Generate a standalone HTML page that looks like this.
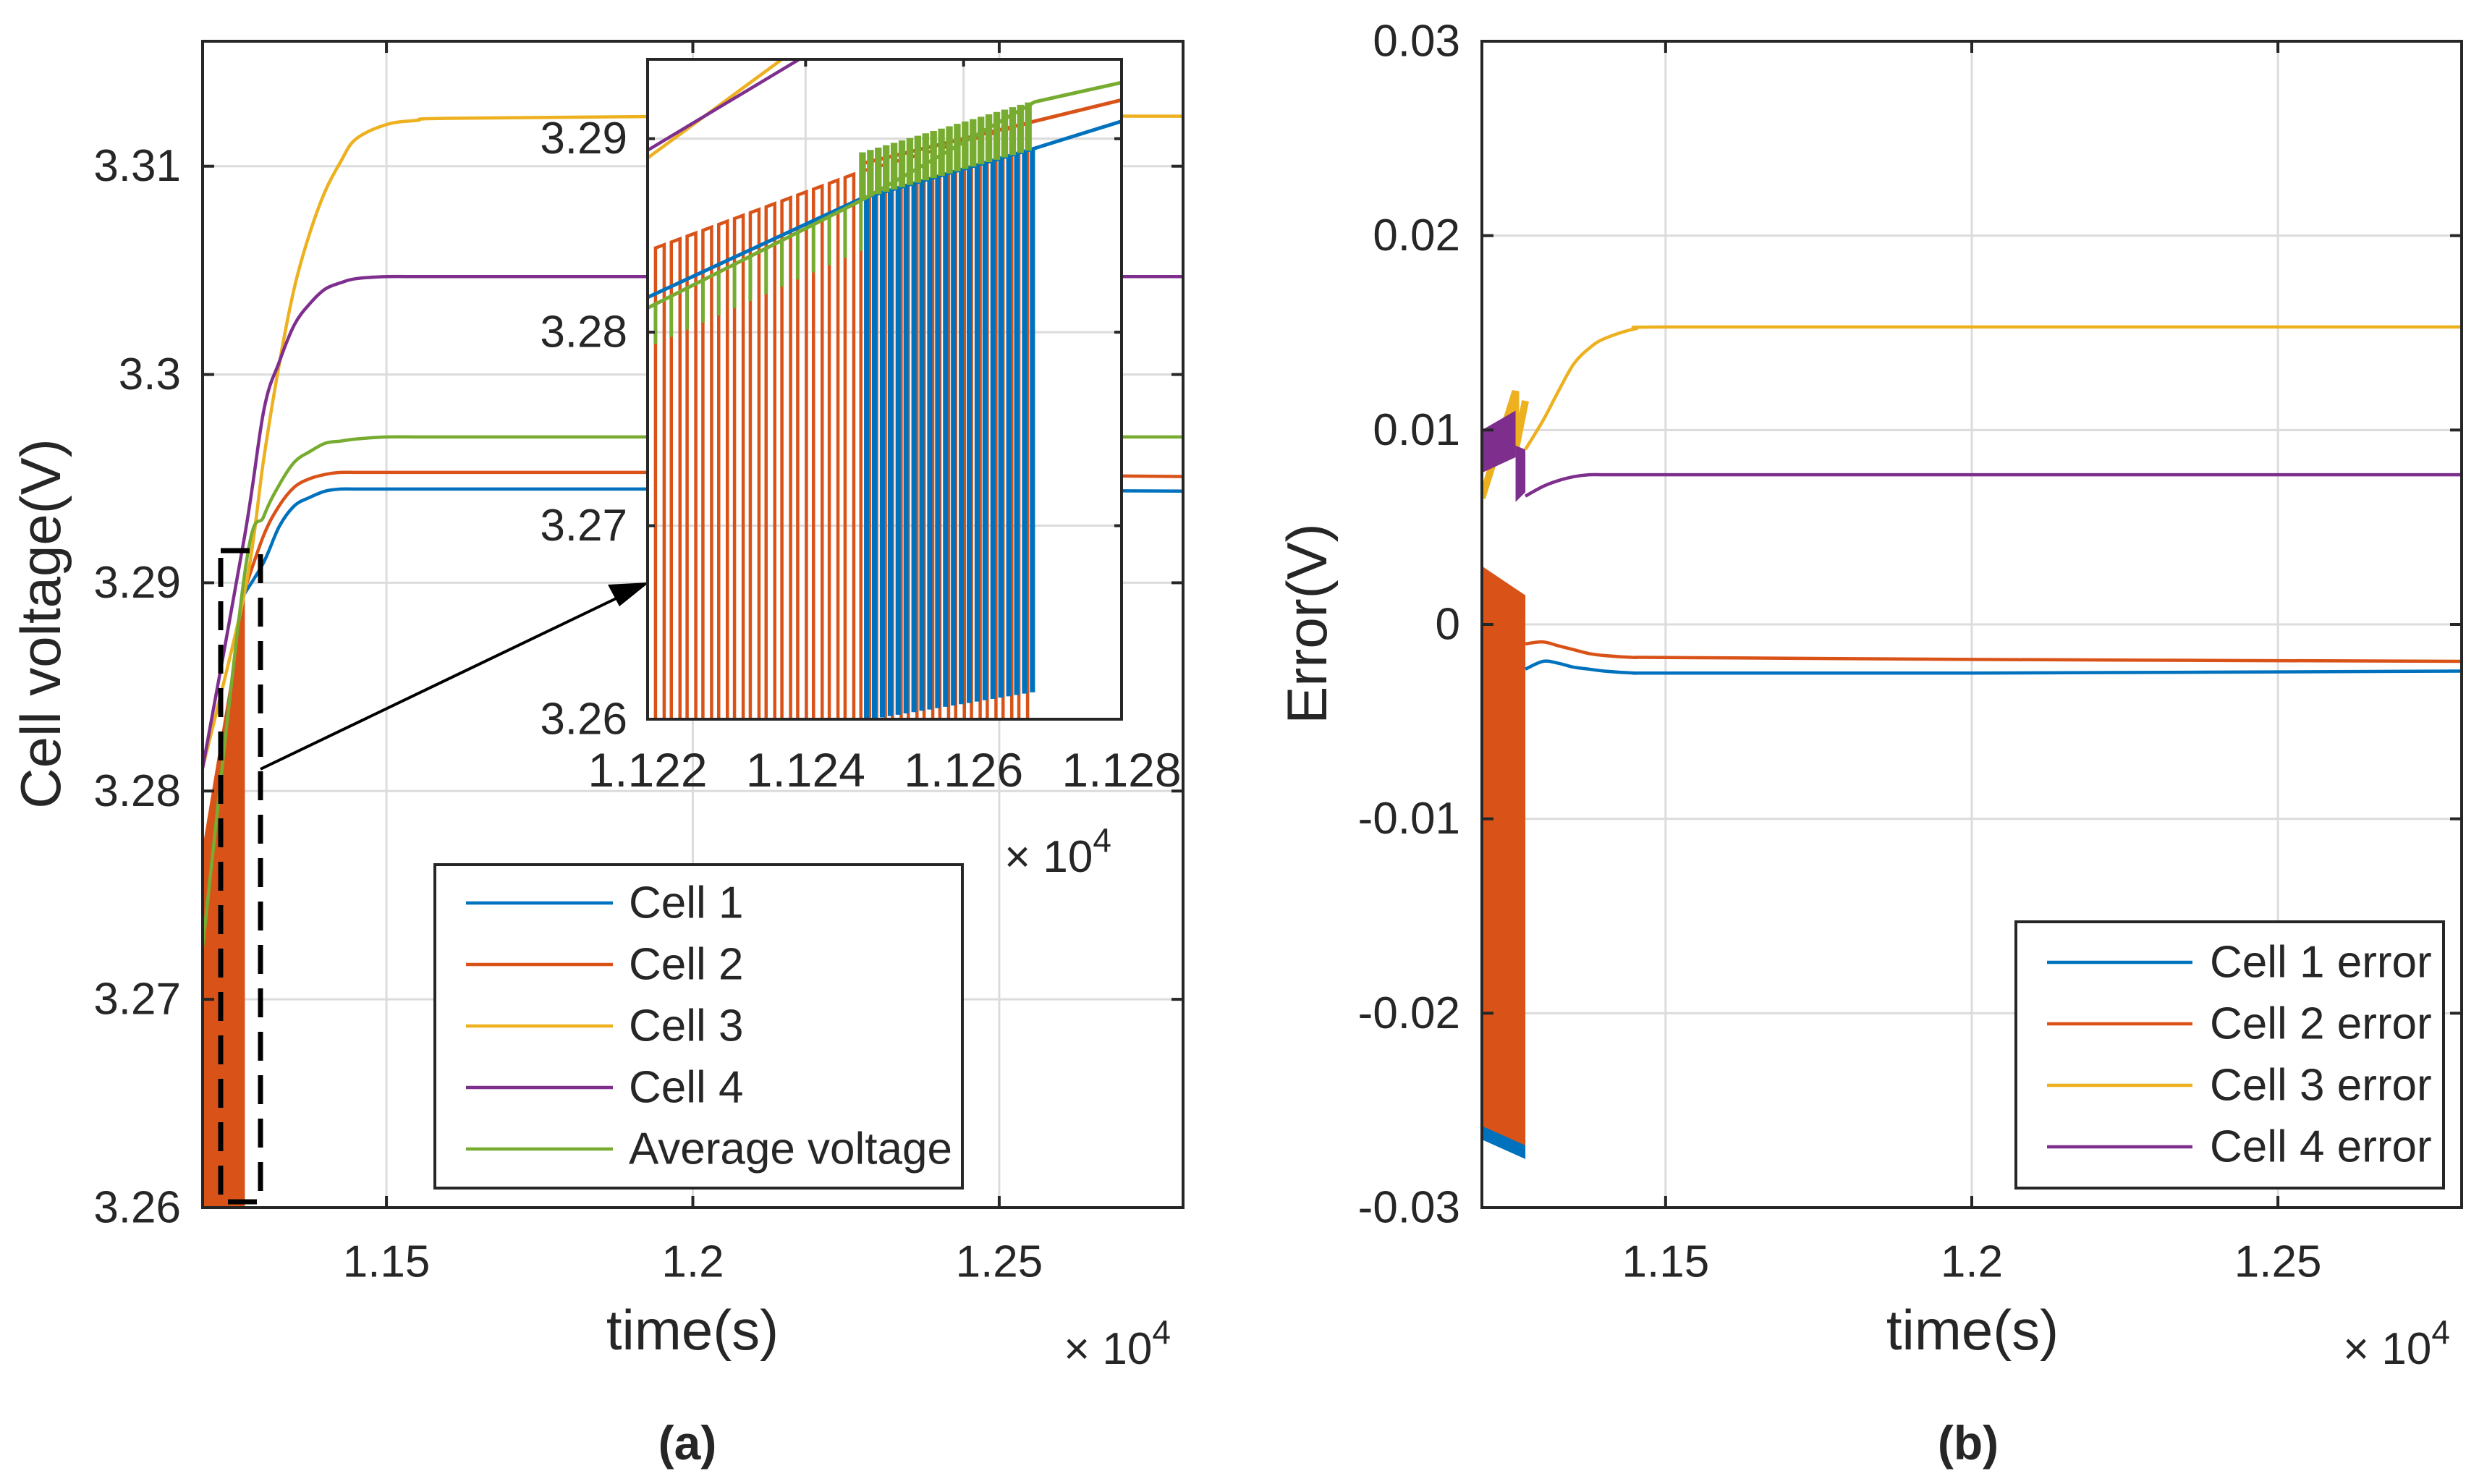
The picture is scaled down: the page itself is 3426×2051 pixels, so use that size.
<!DOCTYPE html>
<html><head><meta charset="utf-8"><style>
html,body{margin:0;padding:0;background:#fff;}
svg{display:block;}
text{font-family:"Liberation Sans",Arial,sans-serif;fill:#262626;}
</style></head>
<body>
<svg id="fig" width="3426" height="2051" viewBox="0 0 3426 2051" xmlns="http://www.w3.org/2000/svg"></svg>
<script>
// ---------- Left main chart data ----------
const mainT = [1.12, 1.1269, 1.13, 1.1325, 1.135, 1.1375, 1.14, 1.1425, 1.145, 1.15, 1.155, 1.16, 1.2, 1.28];
const cell1V = [null, 3.2895, 3.2910, 3.2927, 3.2937, 3.2941, 3.2944, 3.2945, 3.2945, 3.2945, 3.2945, 3.2945, 3.2945, 3.2944];
const cell2V = [null, 3.2897, 3.2923, 3.2937, 3.2946, 3.2950, 3.2952, 3.2953, 3.2953, 3.2953, 3.2953, 3.2953, 3.2953, 3.2951];
const cell3V = [3.2811, 3.2896, 3.2960, 3.3005, 3.3042, 3.3068, 3.3088, 3.3102, 3.3113, 3.3120, 3.3122, 3.3123, 3.3124, 3.3124];
const cell4V = [3.2811, 3.2923, 3.2983, 3.3006, 3.3024, 3.3034, 3.3041, 3.3044, 3.3046, 3.3047, 3.3047, 3.3047, 3.3047, 3.3047];
const avgV   = [3.2725, 3.2905, 3.2932, 3.2947, 3.2958, 3.2963, 3.2967, 3.2968, 3.2969, 3.2970, 3.2970, 3.2970, 3.2970, 3.2970];
const bandT = [1.12, 1.1269];
const bandHi = [3.2773, 3.2895];
const mainYTicks = [3.26, 3.27, 3.28, 3.29, 3.3, 3.31];
const mainYLabels = ["3.26","3.27","3.28","3.29","3.3","3.31"];
const mainXTicks = [1.15, 1.2, 1.25];
const mainXLabels = ["1.15","1.2","1.25"];
// ---------- Inset data ----------
const insT = [1.122, 1.1247, 1.1269, 1.128];
const insOrangeHi = [3.2842, 3.2883, 3.2909, 3.2920];
const insBlue = [3.2818, 3.2869, 3.2895, 3.2909];
const insGreen = [3.28125, 3.2868, 3.2919, 3.2929];
const insGreenDip = [3.2792, 3.2842];
const insBlueLow = [3.2600, 3.2615];
const insGreenPulseTop = [3.2892, 3.2919];
const insGreenPulseLow = [3.2869, 3.2895];
const pulsePeriod = 0.0002;
const insC3T = [1.122, 1.1237];
const insC3V = [3.2890, 3.2941];
const insC4T = [1.122, 1.12392];
const insC4V = [3.2894, 3.2941];
const insYTicks = [3.26, 3.27, 3.28, 3.29];
const insYLabels = ["3.26","3.27","3.28","3.29"];
const insXTicks = [1.122, 1.124, 1.126, 1.128];
const insXLabels = ["1.122","1.124","1.126","1.128"];
// ---------- Right chart data ----------
const errT = [1.1271, 1.13, 1.1325, 1.135, 1.1375, 1.14, 1.145, 1.15, 1.2, 1.28];
const err1 = [-0.0023, -0.0019, -0.0020, -0.0022, -0.0023, -0.0024, -0.0025, -0.0025, -0.0025, -0.0024];
const err2 = [-0.0010, -0.0009, -0.0011, -0.0013, -0.0015, -0.0016, -0.0017, -0.0017, -0.0018, -0.0019];
const err3 = [0.0090, 0.0105, 0.0120, 0.0134, 0.0142, 0.0147, 0.0152, 0.0153, 0.0153, 0.0153];
const err4 = [0.0066, 0.0071, 0.0074, 0.0076, 0.0077, 0.0077, 0.0077, 0.0077, 0.0077, 0.0077];
const errBandT = [1.12, 1.1271];
const err2BandTop = [0.0030, 0.0015];
const err2BandBot = [-0.0258, -0.0268];
const err1BandTop = [-0.0250, -0.0267];
const err1BandBot = [-0.0265, -0.0275];
const err4BandT = [1.12, 1.1255, 1.1255, 1.1271];
const err4BandTop = [0.0100, 0.0110, 0.0092, 0.0090];
const err4BandBot = [0.0078, 0.0086, 0.0063, 0.0068];
const err3SawT = [1.12, 1.1255, 1.1255, 1.1271];
const err3SawV = [0.0065, 0.0120, 0.0090, 0.0115];
const errYTicks = [-0.03, -0.02, -0.01, 0, 0.01, 0.02, 0.03];
const errYLabels = ["-0.03","-0.02","-0.01","0","0.01","0.02","0.03"];
const errXTicks = [1.15, 1.2, 1.25];
const errXLabels = ["1.15","1.2","1.25"];

const C1="#0072BD", C2="#D95319", C3="#EDB120", C4="#7E2F8E", C5="#77AC30";
const TICK=62, LAB=78, LEG=62;
const NS="http://www.w3.org/2000/svg";
const svg=document.getElementById('fig');
function mk(tag,attrs,parent){const e=document.createElementNS(NS,tag);for(const k in attrs)e.setAttribute(k,attrs[k]);(parent||svg).appendChild(e);return e;}
function txt(s,x,y,size,anchor,parent,extra){const e=mk('text',Object.assign({x:x,y:y,'font-size':size,'text-anchor':anchor||'middle','dominant-baseline':'central'},extra||{}),parent);e.textContent=s;return e;}
function scale(d0,d1,p0,p1){return v=>p0+(v-d0)/(d1-d0)*(p1-p0);}
function pathFrom(ts,vs,sx,sy){let d='';let first=true;for(let i=0;i<ts.length;i++){if(vs[i]===null)continue;d+=(first?'M':'L')+sx(ts[i]).toFixed(1)+','+sy(vs[i]).toFixed(1);first=false;}return d;}
function smoothPath(ts,vs,sx,sy){
  const p=[];for(let i=0;i<ts.length;i++){if(vs[i]!==null)p.push([sx(ts[i]),sy(vs[i])]);}
  let d='M'+p[0][0].toFixed(1)+','+p[0][1].toFixed(1);
  for(let i=0;i<p.length-1;i++){
    const p0=p[Math.max(0,i-1)],p1=p[i],p2=p[i+1],p3=p[Math.min(p.length-1,i+2)];
    const c1x=p1[0]+(p2[0]-p0[0])/6,c1y=p1[1]+(p2[1]-p0[1])/6;
    const c2x=p2[0]-(p3[0]-p1[0])/6,c2y=p2[1]-(p3[1]-p1[1])/6;
    d+='C'+c1x.toFixed(1)+','+c1y.toFixed(1)+' '+c2x.toFixed(1)+','+c2y.toFixed(1)+' '+p2[0].toFixed(1)+','+p2[1].toFixed(1);
  }
  return d;
}
function interp(ts,vs,t){for(let i=0;i<ts.length-1;i++){if(t<=ts[i+1])return vs[i]+(vs[i+1]-vs[i])*(t-ts[i])/(ts[i+1]-ts[i]);}return vs[vs.length-1];}
function expo(x,y,parent,name){const e=mk('text',{x:x,y:y,'font-size':TICK},parent);e.innerHTML='× 10<tspan dy="-28" font-size="46">4</tspan>';return e;}

// ===== LEFT MAIN =====
const L={x0:280,x1:1635,y0:57,y1:1669};
const lx=scale(1.12,1.28,L.x0,L.x1), ly=scale(3.26,3.316,L.y1,L.y0);
const gL=mk('g',{});


const clipL=mk('clipPath',{id:'clipL'},gL);mk('rect',{x:L.x0,y:L.y0,width:L.x1-L.x0,height:L.y1-L.y0},clipL);
mainYTicks.forEach((v,i)=>{
  const g=mk('line',{x1:L.x0,x2:L.x1,y1:ly(v),y2:ly(v),stroke:'#dcdcdc','stroke-width':3},gL);
  
  const t=txt(mainYLabels[i],250,ly(v),TICK,'end',gL);
  
});
mainXTicks.forEach((v,i)=>{
  const g=mk('line',{x1:lx(v),x2:lx(v),y1:L.y0,y2:L.y1,stroke:'#dcdcdc','stroke-width':3},gL);
  
  const t=txt(mainXLabels[i],lx(v),1744,TICK,'middle',gL);
  
});
const sL=mk('g',{'clip-path':'url(#clipL)'},gL);
const bandPts=[lx(bandT[0])+','+ly(3.26),lx(bandT[0])+','+ly(bandHi[0]),lx(bandT[1])+','+ly(bandHi[1]),lx(bandT[1])+','+ly(3.26)].join(' ');
const band=mk('polygon',{points:bandPts,fill:C2},sL);

[[cell1V,C1,'cell1-line'],[cell2V,C2,'cell2-line'],[cell3V,C3,'cell3-line'],[cell4V,C4,'cell4-line'],[avgV,C5,'average-line']].forEach(s=>{
  const p=mk('path',{d:smoothPath(mainT,s[0],lx,ly),fill:'none',stroke:s[1],'stroke-width':4.5,'stroke-linejoin':'round'},sL);
  
});
const ax=mk('rect',{x:L.x0,y:L.y0,width:L.x1-L.x0,height:L.y1-L.y0,fill:'none',stroke:'#262626','stroke-width':4},gL);

mainYTicks.forEach(v=>{mk('line',{x1:L.x0,x2:L.x0+16,y1:ly(v),y2:ly(v),stroke:'#262626','stroke-width':4},gL);mk('line',{x1:L.x1,x2:L.x1-16,y1:ly(v),y2:ly(v),stroke:'#262626','stroke-width':4},gL);});
mainXTicks.forEach(v=>{mk('line',{x1:lx(v),x2:lx(v),y1:L.y1,y2:L.y1-16,stroke:'#262626','stroke-width':4},gL);mk('line',{x1:lx(v),x2:lx(v),y1:L.y0,y2:L.y0+16,stroke:'#262626','stroke-width':4},gL);});
const yl=txt('Cell voltage(V)',0,0,LAB,'middle',gL,{transform:'translate(56,862) rotate(-90)'});

const xl=txt('time(s)',957,1838,LAB,'middle',gL);

expo(1470,1885,gL,'x-exponent');
const cap=txt('(a)',950,1994,66,'middle',gL,{'font-weight':'bold'});

const db=mk('rect',{x:305,y:761,width:55,height:900,fill:'none',stroke:'#000','stroke-width':7,'stroke-dasharray':'40,20'},gL);

const ar=mk('line',{x1:360,y1:1063,x2:860,y2:823,stroke:'#000','stroke-width':4},gL);

const ah=mk('polygon',{points:'897,805 840,808 856,838',fill:'#000'},gL);


// ===== INSET =====
const I={x0:895,x1:1550,y0:82,y1:994};
const ix=scale(1.122,1.128,I.x0,I.x1), iy=scale(3.26,3.2941,I.y1,I.y0);
const gI=mk('g',{});


mk('rect',{x:I.x0,y:I.y0,width:I.x1-I.x0,height:I.y1-I.y0,fill:'#fff'},gI);
const clipI=mk('clipPath',{id:'clipI'},gI);mk('rect',{x:I.x0,y:I.y0,width:I.x1-I.x0,height:I.y1-I.y0},clipI);
insYTicks.forEach((v,i)=>{
  const g=mk('line',{x1:I.x0,x2:I.x1,y1:iy(v),y2:iy(v),stroke:'#dcdcdc','stroke-width':3},gI);
  
  const t=txt(insYLabels[i],867,iy(v),TICK,'end',gI);
  
});
insXTicks.forEach((v,i)=>{
  const g=mk('line',{x1:ix(v),x2:ix(v),y1:I.y0,y2:I.y1,stroke:'#dcdcdc','stroke-width':3},gI);
  
  const t=txt(insXLabels[i],ix(v),1064,TICK+4,'middle',gI);
  
});
const sI=mk('g',{'clip-path':'url(#clipI)'},gI);
const tSplit=insT[1], tEnd=insT[2];
let od='';
for(let t=1.1221;t<tEnd-1e-9;t+=pulsePeriod){
  const hi=interp(insT,insOrangeHi,t), lo=3.2596;
  const w=pulsePeriod*0.55;
  od+='M'+ix(t)+','+iy(lo)+'L'+ix(t)+','+iy(hi)+'L'+ix(t+w)+','+iy(interp(insT,insOrangeHi,t+w))+'L'+ix(t+w)+','+iy(lo);
}
const op=mk('path',{d:od,fill:'none',stroke:C2,'stroke-width':4.5},sI);

let bd='';
for(let t=tSplit+pulsePeriod*0.3;t<tEnd;t+=pulsePeriod/2){
  const hi=interp(insT,insBlue,t), lo=insBlueLow[0]+(insBlueLow[1]-insBlueLow[0])*(t-tSplit)/(tEnd-tSplit);
  bd+='M'+ix(t)+','+iy(hi)+'L'+ix(t)+','+iy(lo)+'L'+ix(t+pulsePeriod*0.12)+','+iy(lo)+'L'+ix(t+pulsePeriod*0.12)+','+iy(hi);
}
const bp=mk('path',{d:bd,fill:'none',stroke:C1,'stroke-width':4.5},sI);

const bl=mk('path',{d:pathFrom(insT,insBlue,ix,iy),fill:'none',stroke:C1,'stroke-width':5},sI);

const ol=mk('path',{d:pathFrom(insT.slice(1),[3.2887,3.2909,3.2920],ix,iy),fill:'none',stroke:C2,'stroke-width':5},sI);

let gd=pathFrom(insT,insGreen,ix,iy);
for(let t=1.1221;t<tSplit;t+=pulsePeriod){
  const base=interp(insT,insGreen,t), dip=insGreenDip[0]+(insGreenDip[1]-insGreenDip[0])*(t-1.122)/(tSplit-1.122);
  gd+='M'+ix(t)+','+iy(base)+'L'+ix(t)+','+iy(dip);
}
for(let t=tSplit;t<tEnd-1e-9;t+=pulsePeriod/2){
  const f=(t-tSplit)/(tEnd-tSplit);
  const top=insGreenPulseTop[0]+(insGreenPulseTop[1]-insGreenPulseTop[0])*f;
  const low=insGreenPulseLow[0]+(insGreenPulseLow[1]-insGreenPulseLow[0])*f;
  gd+='M'+ix(t)+','+iy(low)+'L'+ix(t)+','+iy(top)+'L'+ix(t+pulsePeriod*0.2)+','+iy(top)+'L'+ix(t+pulsePeriod*0.2)+','+iy(low);
}
const gp=mk('path',{d:gd,fill:'none',stroke:C5,'stroke-width':5},sI);

const c3=mk('path',{d:pathFrom(insC3T,insC3V,ix,iy),fill:'none',stroke:C3,'stroke-width':4.5},sI);

const c4=mk('path',{d:pathFrom(insC4T,insC4V,ix,iy),fill:'none',stroke:C4,'stroke-width':4.5},sI);

const ib=mk('rect',{x:I.x0,y:I.y0,width:I.x1-I.x0,height:I.y1-I.y0,fill:'none',stroke:'#262626','stroke-width':4},gI);

insYTicks.forEach(v=>{mk('line',{x1:I.x0,x2:I.x0+10,y1:iy(v),y2:iy(v),stroke:'#262626','stroke-width':4},gI);mk('line',{x1:I.x1,x2:I.x1-10,y1:iy(v),y2:iy(v),stroke:'#262626','stroke-width':4},gI);});
insXTicks.forEach(v=>{mk('line',{x1:ix(v),x2:ix(v),y1:I.y0,y2:I.y0+10,stroke:'#262626','stroke-width':4},gI);});
expo(1388,1205,gI,'inset-x-exponent');

// legend left
const lg=mk('g',{});


mk('rect',{x:601,y:1195,width:729,height:447,fill:'#fff',stroke:'#262626','stroke-width':4},lg);
[['Cell 1',C1],['Cell 2',C2],['Cell 3',C3],['Cell 4',C4],['Average voltage',C5]].forEach((e,i)=>{
  const y=1248+i*85;
  const ln=mk('line',{x1:644,x2:847,y1:y,y2:y,stroke:e[1],'stroke-width':4.5},lg);
  
  const t=txt(e[0],869,y,LEG,'start',lg);
  
});

// ===== RIGHT =====
const R={x0:2048,x1:3402,y0:57,y1:1669};
const rx=scale(1.12,1.28,R.x0,R.x1), ry=scale(-0.03,0.03,R.y1,R.y0);
const gR=mk('g',{});


const clipR=mk('clipPath',{id:'clipR'},gR);mk('rect',{x:R.x0,y:R.y0,width:R.x1-R.x0,height:R.y1-R.y0},clipR);
errYTicks.forEach((v,i)=>{
  const g=mk('line',{x1:R.x0,x2:R.x1,y1:ry(v),y2:ry(v),stroke:'#dcdcdc','stroke-width':3},gR);
  
  const t=txt(errYLabels[i],2018,ry(v),TICK,'end',gR);
  
});
errXTicks.forEach((v,i)=>{
  const g=mk('line',{x1:rx(v),x2:rx(v),y1:R.y0,y2:R.y1,stroke:'#dcdcdc','stroke-width':3},gR);
  
  const t=txt(errXLabels[i],rx(v),1744,TICK,'middle',gR);
  
});
const sR=mk('g',{'clip-path':'url(#clipR)'},gR);
function bandPoly(ts,top,bot,col,name){
  let pts=[];for(let i=0;i<ts.length;i++)pts.push(rx(ts[i])+','+ry(top[i]));
  for(let i=ts.length-1;i>=0;i--)pts.push(rx(ts[i])+','+ry(bot[i]));
  const p=mk('polygon',{points:pts.join(' '),fill:col},sR);
  
}
bandPoly(errBandT,err1BandTop,err1BandBot,C1,'cell1-error-band');
bandPoly(errBandT,err2BandTop,err2BandBot,C2,'cell2-error-band');
const saw=mk('path',{d:pathFrom(err3SawT,err3SawV,rx,ry),fill:'none',stroke:C3,'stroke-width':10},sR);

bandPoly(err4BandT.slice(0,2),err4BandTop.slice(0,2),err4BandBot.slice(0,2),C4,'cell4-error-band-1');
bandPoly(err4BandT.slice(2),err4BandTop.slice(2),err4BandBot.slice(2),C4,'cell4-error-band-2');
[[err1,C1,'cell1-error-line'],[err2,C2,'cell2-error-line'],[err3,C3,'cell3-error-line'],[err4,C4,'cell4-error-line']].forEach(s=>{
  const p=mk('path',{d:smoothPath(errT,s[0],rx,ry),fill:'none',stroke:s[1],'stroke-width':4.5,'stroke-linejoin':'round'},sR);
  
});
const axR=mk('rect',{x:R.x0,y:R.y0,width:R.x1-R.x0,height:R.y1-R.y0,fill:'none',stroke:'#262626','stroke-width':4},gR);

errYTicks.forEach(v=>{mk('line',{x1:R.x0,x2:R.x0+16,y1:ry(v),y2:ry(v),stroke:'#262626','stroke-width':4},gR);mk('line',{x1:R.x1,x2:R.x1-16,y1:ry(v),y2:ry(v),stroke:'#262626','stroke-width':4},gR);});
errXTicks.forEach(v=>{mk('line',{x1:rx(v),x2:rx(v),y1:R.y1,y2:R.y1-16,stroke:'#262626','stroke-width':4},gR);mk('line',{x1:rx(v),x2:rx(v),y1:R.y0,y2:R.y0+16,stroke:'#262626','stroke-width':4},gR);});
const yl2=txt('Error(V)',0,0,LAB,'middle',gR,{transform:'translate(1806,862) rotate(-90)'});

const xl2=txt('time(s)',2726,1838,LAB,'middle',gR);

expo(3238,1885,gR,'x-exponent');
const cap2=txt('(b)',2720,1994,66,'middle',gR,{'font-weight':'bold'});

const lg2=mk('g',{});


mk('rect',{x:2786,y:1274,width:591,height:368,fill:'#fff',stroke:'#262626','stroke-width':4},lg2);
[['Cell 1 error',C1],['Cell 2 error',C2],['Cell 3 error',C3],['Cell 4 error',C4]].forEach((e,i)=>{
  const y=1330+i*85;
  const ln=mk('line',{x1:2829,x2:3030,y1:y,y2:y,stroke:e[1],'stroke-width':4.5},lg2);
  
  const t=txt(e[0],3054,y,LEG,'start',lg2);
  
});
</script>
</body></html>
